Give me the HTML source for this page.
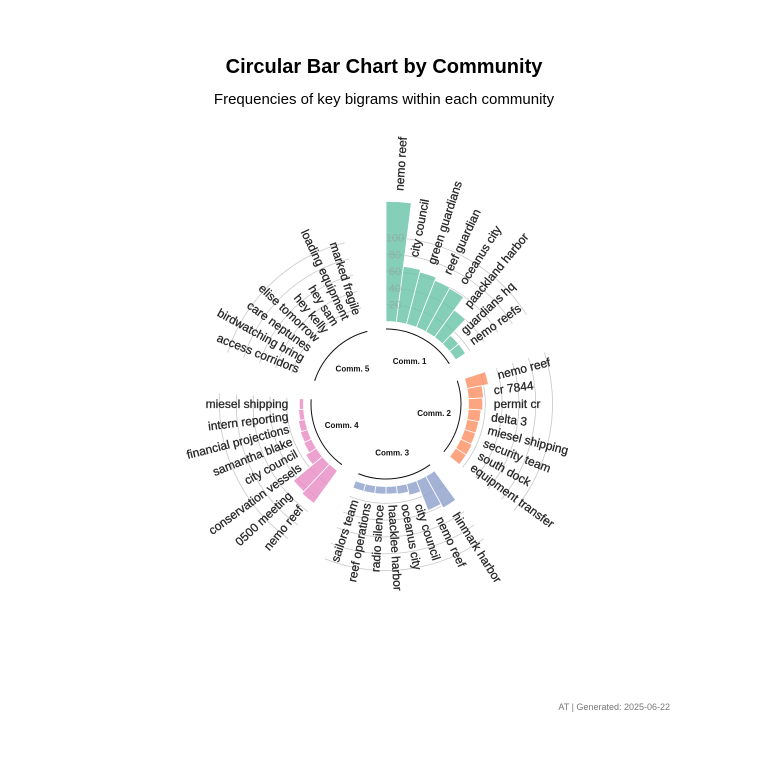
<!DOCTYPE html>
<html><head><meta charset="utf-8"><style>
body{margin:0;background:#fff;width:768px;height:768px;overflow:hidden}
svg{font-family:"Liberation Sans",sans-serif}
</style></head><body>
<svg id="chart" width="768" height="768" viewBox="0 0 768 768">
<text x="384" y="73" text-anchor="middle" font-size="20" font-weight="bold" fill="#000">Circular Bar Chart by Community</text>
<text x="384" y="104" text-anchor="middle" font-size="15" fill="#000">Frequencies of key bigrams within each community</text>
<text x="670" y="710" text-anchor="end" font-size="9" fill="#777">AT | Generated: 2025-06-22</text>
<g id="grid"></g><g id="bars"></g><g id="labels"></g>
</svg>
<script>
const communities = ["Comm. 1","Comm. 2","Comm. 3","Comm. 4","Comm. 5"];
const colors = ["#66c2a5","#fc8d62","#8da0cb","#e78ac3","#a6d854"];
const terms1 = ["nemo reef","city council","green guardians","reef guardian","oceanus city","paackland harbor","guardians hq","nemo reefs"];
const values1 = [143,67,64,60,59,40,14,14];
const terms2 = ["nemo reef","cr 7844","permit cr","delta 3","miesel shipping","security team","south dock","equipment transfer"];
const values2 = [26,18,17,15,14,14,15,15];
const terms3 = ["hinmark harbor","nemo reef","city council","oceanus city","haacklee harbor","radio silence","reef operations","sailors team"];
const values3 = [43,38,14,10,9,9,9,9];
const terms4 = ["nemo reef","0500 meeting","conservation vessels","city council","samantha blake","financial projections","intern reporting","miesel shipping"];
const values4 = [48,45,15,10,9,8,6,5];
const terms5 = ["access corridors","birdwatching bring","care neptunes","elise tomorrow","hey kelly","hey sam","loading equipment","marked fragile"];
const values5 = [0.5,0.5,0.5,0.5,0.5,0.5,0.5,0.5];
const gridTicks = [20,40,60,80,100];

const allTerms=[terms1,terms2,terms3,terms4,terms5];
const allVals=[values1,values2,values3,values4,values5];
const NS="http://www.w3.org/2000/svg";
const cx=386, cy=404, R0=82.5, K=0.84, SLOT=7.2, PER=10;
function rScale(v){return R0+K*v;}
function pt(r,a){const t=a*Math.PI/180;return [cx+r*Math.sin(t),cy-r*Math.cos(t)];}
function arcPath(r,a0,a1){const p0=pt(r,a0),p1=pt(r,a1);return `M${p0[0]},${p0[1]} A${r},${r} 0 ${a1-a0>180?1:0} 1 ${p1[0]},${p1[1]}`;}
function mk(tag,attrs,parent){const e=document.createElementNS(NS,tag);for(const k in attrs)e.setAttribute(k,attrs[k]);parent.appendChild(e);return e;}
const grid=document.getElementById('grid'),bars=document.getElementById('bars'),labels=document.getElementById('labels');

communities.forEach((c,g)=>{
  const n=allTerms[g].length;
  const a0=g*PER*SLOT, a1=a0+n*SLOT;
  gridTicks.forEach(t=>{
    const p=mk('path',{d:arcPath(rScale(t),a0,a1),fill:'none',stroke:'#c8c8c8','stroke-width':0.8},grid);
    
    
  });
  const inner=mk('path',{d:arcPath(75,a0,a1),fill:'none',stroke:'#111','stroke-width':1},grid);
  
  
  const mid=(a0+a1)/2, lp=pt(49,mid);
  const ct=mk('text',{x:lp[0],y:lp[1]+3,'text-anchor':'middle','font-size':8,'font-weight':'bold',fill:'#111'},labels);
  ct.textContent=c;
  
  
  allTerms[g].forEach((term,j)=>{
    const v=allVals[g][j];
    const s=a0+j*SLOT, e=s+SLOT, r1=rScale(v);
    const p1=pt(R0,s),p2=pt(r1,s),p3=pt(r1,e),p4=pt(R0,e);
    const b=mk('path',{d:`M${p1[0]},${p1[1]} L${p2[0]},${p2[1]} A${r1},${r1} 0 0 1 ${p3[0]},${p3[1]} L${p4[0]},${p4[1]} A${R0},${R0} 0 0 0 ${p1[0]},${p1[1]}Z`,fill:colors[g],'fill-opacity':0.8,stroke:'#fff','stroke-width':0.8},bars);
    
    
    const am=s+SLOT/2, lr=r1+11, q=pt(lr,am);
    const right=am<180;
    const rot=right?am-90:am+90;
    const tx=mk('text',{x:q[0],y:q[1],'text-anchor':right?'start':'end','dominant-baseline':'central','font-size':12,fill:'#222',stroke:'#333','stroke-width':0.3,transform:`rotate(${rot},${q[0]},${q[1]})`},labels);
    tx.textContent=term;
    
    
  });
});
gridTicks.forEach(t=>{
  const gl=mk('text',{x:cx+9,y:cy-rScale(t)+4,'text-anchor':'middle','font-size':11,fill:'#9a9a9a','fill-opacity':0.6},labels);
  gl.textContent=t;
  
  
});
</script>
</body></html>
